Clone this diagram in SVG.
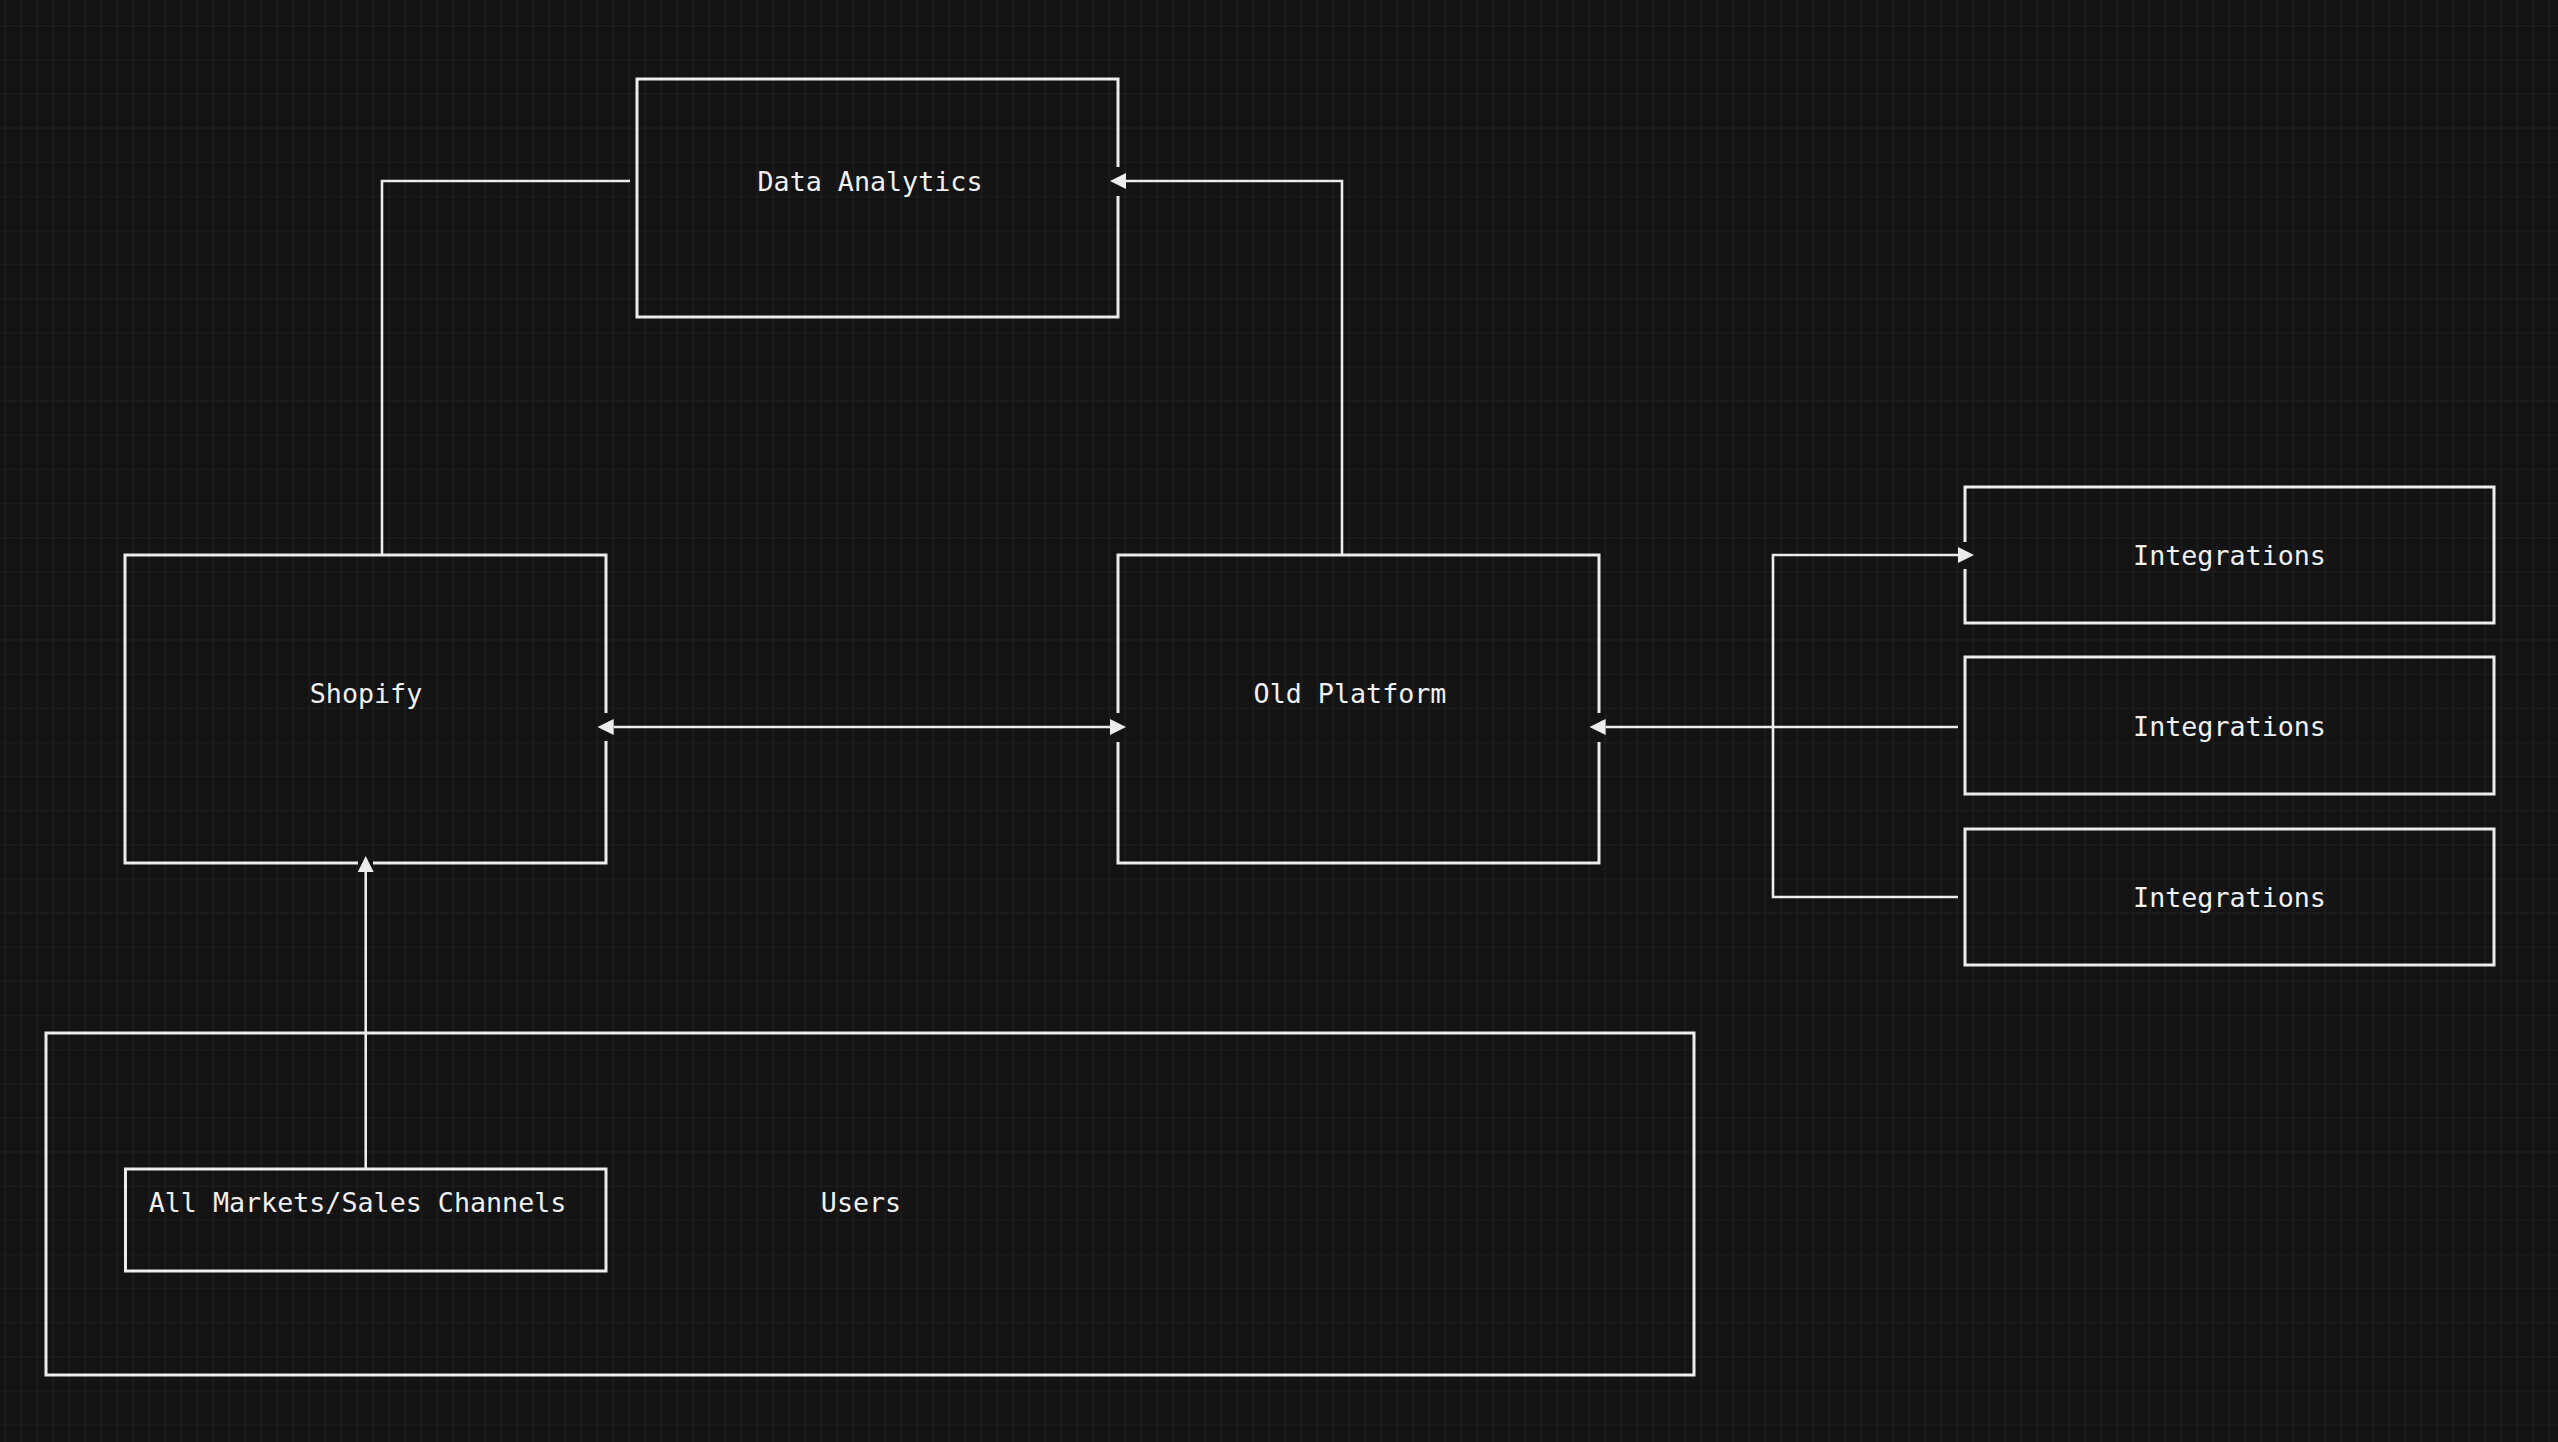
<svg xmlns="http://www.w3.org/2000/svg" width="2558" height="1442" viewBox="0 0 2558 1442">
<style>
.box{fill:none;stroke:#ececec;stroke-width:3;stroke-linejoin:miter}
.conn{fill:none;stroke:#ececec;stroke-width:2.6}
.lbl{font-family:"DejaVu Sans Mono","Liberation Mono",monospace;font-size:26.7px;fill:#f0f0f0;text-anchor:middle}
</style>
<defs>
<pattern id="grid" patternUnits="userSpaceOnUse" x="4.6" y="25" width="16" height="34.13">
<rect x="0" y="0" width="1.4" height="34.13" fill="#1d1d1d"/>
<rect x="0" y="0" width="16" height="1.4" fill="#1d1d1d"/>
</pattern>
<marker id="arr" viewBox="0 0 16 16" refX="0" refY="8" markerWidth="16" markerHeight="16" markerUnits="userSpaceOnUse" orient="auto-start-reverse">
<path d="M0 0 L16 8 L0 16 z" fill="#ececec"/>
</marker>
</defs>
<rect x="0" y="0" width="2558" height="1442" fill="#131313"/>
<rect x="0" y="0" width="2558" height="1442" fill="url(#grid)"/>

<g id="users">
<rect class="box" x="46" y="1033" width="1648" height="342"/>
<text class="lbl" x="861" y="1212">Users</text>
</g>
<g id="all-markets">
<rect class="box" x="125.5" y="1169" width="480.5" height="102"/>
<text class="lbl" x="357.5" y="1212">All Markets/Sales Channels</text>
</g>
<g id="data-analytics">
<path class="box" d="M1118 196 V317 H637 V79 H1118 V167"/>
<text class="lbl" x="870" y="191">Data Analytics</text>
</g>
<g id="shopify">
<path class="box" d="M606 741 V863 H373 M358 863 H125 V555 H606 V713"/>
<text class="lbl" x="366" y="703">Shopify</text>
</g>
<g id="old-platform">
<path class="box" d="M1118 742 V863 H1599 V742 M1599 713 V555 H1118 V713"/>
<text class="lbl" x="1350" y="703">Old Platform</text>
</g>
<g id="integrations-1">
<path class="box" d="M1965 569 V623 H2494 V487 H1965 V542"/>
<text class="lbl" x="2229.5" y="565">Integrations</text>
</g>
<g id="integrations-2">
<rect class="box" x="1965" y="657" width="529" height="137"/>
<text class="lbl" x="2229.5" y="736">Integrations</text>
</g>
<g id="integrations-3">
<rect class="box" x="1965" y="829" width="529" height="136"/>
<text class="lbl" x="2229.5" y="907">Integrations</text>
</g>

<g id="connectors">
<path class="conn" d="M382 555 V181 H630"/>
<path class="conn" d="M1342 555 V181 H1126" marker-end="url(#arr)"/>
<path class="conn" d="M613.7 727 H1110" marker-start="url(#arr)" marker-end="url(#arr)"/>
<path class="conn" d="M1958 727 H1605.6" marker-end="url(#arr)"/>
<path class="conn" d="M1958 897 H1773 V555 H1958" marker-end="url(#arr)"/>
<path class="conn" d="M365.7 1169 V872" marker-end="url(#arr)"/>
</g>
</svg>
